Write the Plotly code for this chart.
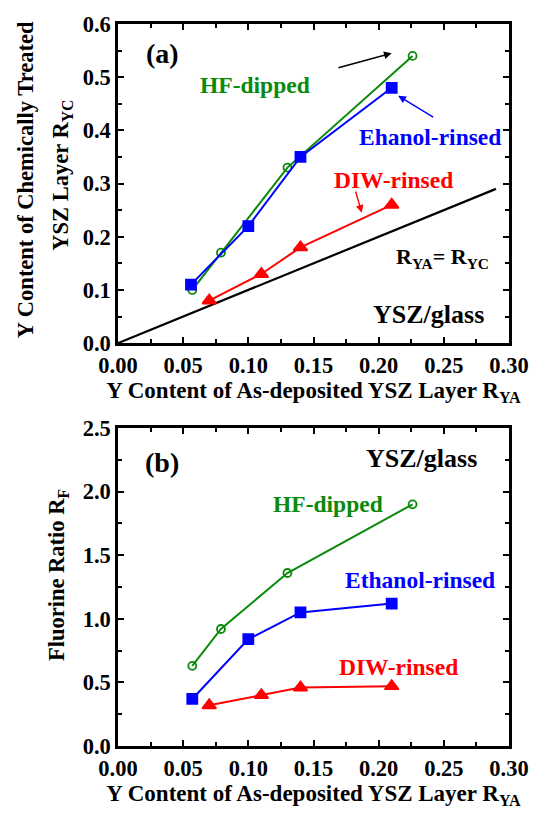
import plotly.graph_objects as go

# ---- data ----
# Panel (a): Y content of chemically treated layer vs as-deposited
hf_x_a = [0.057, 0.079, 0.130, 0.226]
hf_y_a = [0.10, 0.17, 0.33, 0.54]
eth_x_a = [0.056, 0.100, 0.140, 0.210]
eth_y_a = [0.11, 0.22, 0.35, 0.48]
diw_x_a = [0.070, 0.110, 0.140, 0.210]
diw_y_a = [0.08, 0.13, 0.18, 0.26]
ident_x = [0.0, 0.29]
ident_y = [0.0, 0.29]

# Panel (b): fluorine ratio
hf_x_b = [0.057, 0.079, 0.130, 0.226]
hf_y_b = [0.63, 0.92, 1.36, 1.90]
eth_x_b = [0.057, 0.100, 0.140, 0.210]
eth_y_b = [0.37, 0.84, 1.05, 1.12]
diw_x_b = [0.070, 0.110, 0.140, 0.210]
diw_y_b = [0.32, 0.40, 0.46, 0.47]

GREEN = "#0a8a0a"
BLUE = "#0000ff"
RED = "#ff0000"
FONT = "Liberation Serif"

fig = go.Figure()

def add_series(x, y, color, symbol, xa, ya, size=9):
    fig.add_trace(go.Scatter(
        x=x, y=y, mode="lines+markers", xaxis=xa, yaxis=ya,
        line=dict(color=color, width=2),
        marker=dict(symbol=symbol, size=size, color=color,
                    line=dict(color=color, width=1.8)),
        showlegend=False))

# panel (a)
fig.add_trace(go.Scatter(x=ident_x, y=ident_y, mode="lines", xaxis="x", yaxis="y",
                         line=dict(color="black", width=2.2), showlegend=False))
add_series(diw_x_a, diw_y_a, RED, "triangle-up", "x", "y", 12)
add_series(hf_x_a, hf_y_a, GREEN, "circle-open", "x", "y", 8)
add_series(eth_x_a, eth_y_a, BLUE, "square", "x", "y", 10)

# panel (b)
add_series(hf_x_b, hf_y_b, GREEN, "circle-open", "x2", "y2", 8)
add_series(eth_x_b, eth_y_b, BLUE, "square", "x2", "y2", 10)
add_series(diw_x_b, diw_y_b, RED, "triangle-up", "x2", "y2", 12)

axis_common = dict(
    showline=True, linecolor="black", linewidth=2.5, mirror="ticks",
    ticks="inside", ticklen=6, tickwidth=2, tickcolor="black",
    showgrid=False, zeroline=False, automargin=False, ticklabeloverflow="allow",
    tickfont=dict(family=FONT, size=22.5, color="black", weight="bold"),
)
TFONT = dict(family=FONT, size=23, color="black", weight="bold")

xtitle = "Y Content of As-deposited YSZ Layer R<sub>YA</sub>"

fig.update_layout(
    width=535, height=816,
    margin=dict(l=118, r=26, t=24, b=70),
    plot_bgcolor="white", paper_bgcolor="white",
    font=dict(family=FONT, color="black"),
    xaxis=dict(domain=[0, 1], range=[0, 0.30], dtick=0.05, tickformat=".2f",
               anchor="y", ticklabelstandoff=0,
               minor=dict(ticks="inside", ticklen=4, tickwidth=2, dtick=0.025, tickcolor="black"),
               title=dict(text=xtitle, font=TFONT, standoff=0),
               **axis_common),
    yaxis=dict(domain=[0.558, 1.0], range=[0, 0.6], dtick=0.1, tickformat=".1f",
               anchor="x", ticklabelstandoff=0,
               minor=dict(ticks="inside", ticklen=4, tickwidth=2, dtick=0.05, tickcolor="black"),
               **axis_common),
    xaxis2=dict(domain=[0, 1], range=[0, 0.30], dtick=0.05, tickformat=".2f",
                anchor="y2", ticklabelstandoff=0,
                minor=dict(ticks="inside", ticklen=4, tickwidth=2, dtick=0.025, tickcolor="black"),
                title=dict(text=xtitle, font=TFONT, standoff=0),
                **axis_common),
    yaxis2=dict(domain=[0, 0.4404], range=[0, 2.5], dtick=0.5, tickformat=".1f",
                anchor="x2", ticklabelstandoff=0,
                minor=dict(ticks="inside", ticklen=4, tickwidth=2, dtick=0.25, tickcolor="black"),
                **axis_common),
)

# y-axis titles (as rotated paper annotations for precise placement)
def ytitle(x, y, text):
    fig.add_annotation(x=x, y=y, xref="paper", yref="paper", text="<b>" + text + "</b>",
                       showarrow=False, textangle=-90, xanchor="center", yanchor="middle",
                       font=dict(family=FONT, size=22.5, color="black"))

ytitle(-0.238, 0.785, "Y Content of Chemically Treated")
ytitle(-0.143, 0.79, "YSZ Layer R<sub>YC</sub>")
ytitle(-0.153, 0.237, "Fluorine Ratio R<sub>F</sub>")

def txt(x, y, text, color, xref, yref, size=23.5, xanchor="center"):
    fig.add_annotation(x=x, y=y, xref=xref, yref=yref, text="<b>" + text + "</b>",
                       showarrow=False, xanchor=xanchor,
                       font=dict(family=FONT, size=size, color=color))

def arrow(x0, y0, x1, y1, color, xref, yref):
    fig.add_annotation(x=x1, y=y1, ax=x0, ay=y0, xref=xref, yref=yref,
                       axref=xref, ayref=yref, text="", showarrow=True,
                       arrowhead=2, arrowsize=1.1, arrowwidth=1.4, arrowcolor=color)

# panel (a) annotations
txt(0.034, 0.545, "(a)", "black", "x", "y", 28)
txt(0.105, 0.485, "HF-dipped", GREEN, "x", "y")
arrow(0.168, 0.517, 0.21, 0.545, "black", "x", "y")
txt(0.239, 0.387, "Ehanol-rinsed", BLUE, "x", "y")
arrow(0.243, 0.423, 0.215, 0.465, BLUE, "x", "y")
txt(0.211, 0.307, "DIW-rinsed", RED, "x", "y")
arrow(0.182, 0.288, 0.187, 0.245, RED, "x", "y")
txt(0.249, 0.16, "R<sub>YA</sub>= R<sub>YC</sub>", "black", "x", "y", 22)
txt(0.238, 0.053, "YSZ/glass", "black", "x", "y", 26)

# panel (b) annotations
txt(0.034, 2.23, "(b)", "black", "x2", "y2", 28)
txt(0.233, 2.26, "YSZ/glass", "black", "x2", "y2", 26)
txt(0.161, 1.90, "HF-dipped", GREEN, "x2", "y2")
txt(0.232, 1.305, "Ethanol-rinsed", BLUE, "x2", "y2")
txt(0.215, 0.62, "DIW-rinsed", RED, "x2", "y2")

# remove the browser's default body margin so the figure fills the window
fig.write_html("out.html", config={"displayModeBar": False},
               post_script="document.body.style.margin='0px';")
